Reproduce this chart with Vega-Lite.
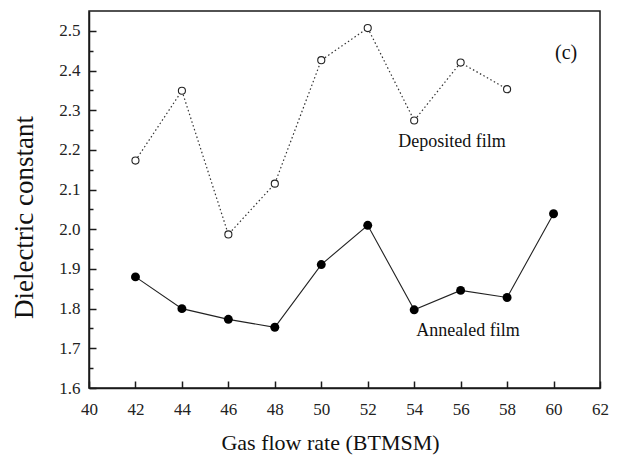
{
  "$schema": "https://vega.github.io/schema/vega-lite/v6.json",
  "width": 511,
  "height": 377,
  "autosize": {"type": "none"},
  "padding": {"left": 89, "top": 11, "right": 21, "bottom": 67},
  "background": "white",
  "config": {
    "view": {"stroke": "#1a1a1a", "strokeWidth": 1.5},
    "font": "Liberation Serif",
    "axis": {
      "grid": false,
      "domainColor": "#1a1a1a",
      "domainWidth": 1.5,
      "tickColor": "#1a1a1a",
      "tickWidth": 1.5,
      "labelFont": "Liberation Serif",
      "labelColor": "#222",
      "labelFontSize": 17,
      "titleFont": "Liberation Serif",
      "titleColor": "#111",
      "titleFontWeight": "normal",
      "titleFontSize": 22
    }
  },
  "datasets": {
    "pts": [
      {"rate": 42, "k": 2.173, "film": "Deposited"},
      {"rate": 44, "k": 2.349, "film": "Deposited"},
      {"rate": 46, "k": 1.987, "film": "Deposited"},
      {"rate": 48, "k": 2.115, "film": "Deposited"},
      {"rate": 50, "k": 2.426, "film": "Deposited"},
      {"rate": 52, "k": 2.507, "film": "Deposited"},
      {"rate": 54, "k": 2.274, "film": "Deposited"},
      {"rate": 56, "k": 2.42, "film": "Deposited"},
      {"rate": 58, "k": 2.353, "film": "Deposited"},
      {"rate": 42, "k": 1.88, "film": "Annealed"},
      {"rate": 44, "k": 1.8, "film": "Annealed"},
      {"rate": 46, "k": 1.773, "film": "Annealed"},
      {"rate": 48, "k": 1.753, "film": "Annealed"},
      {"rate": 50, "k": 1.911, "film": "Annealed"},
      {"rate": 52, "k": 2.01, "film": "Annealed"},
      {"rate": 54, "k": 1.797, "film": "Annealed"},
      {"rate": 56, "k": 1.846, "film": "Annealed"},
      {"rate": 58, "k": 1.828, "film": "Annealed"},
      {"rate": 60, "k": 2.039, "film": "Annealed"}
    ],
    "notes": [
      {"rate": 55.63, "k": 2.22, "text": "Deposited film", "size": "m"},
      {"rate": 56.32, "k": 1.743, "text": "Annealed film", "size": "m"},
      {"rate": 60.54, "k": 2.444, "text": "(c)", "size": "l"}
    ]
  },
  "resolve": {"scale": {"x": "shared", "y": "shared"}, "axis": {"y": "independent", "x": "independent"}},
  "layer": [
    {
      "data": {"name": "pts"},
      "transform": [{"filter": "datum.film === 'Deposited'"}],
      "mark": {"type": "line", "stroke": "#333", "strokeWidth": 1.2, "strokeDash": [1.5, 2.5]},
      "encoding": {
        "x": {"field": "rate", "type": "quantitative",
          "scale": {"domain": [40, 62], "nice": false, "zero": false},
          "axis": {"title": "Gas flow rate (BTMSM)", "values": [40,42,44,46,48,50,52,54,56,58,60,62],
            "tickSize": -7, "labelPadding": 20, "labelFlush": false, "labelOverlap": false,
            "titleX": 241, "titleY": 61, "titleBaseline": "alphabetic", "titleAnchor": null}},
        "y": {"field": "k", "type": "quantitative",
          "scale": {"domain": [1.6, 2.55], "nice": false, "zero": false},
          "axis": {"title": "Dielectric constant", "values": [1.6,1.7,1.8,1.9,2.0,2.1,2.2,2.3,2.4,2.5],
            "format": ".1f", "tickSize": -7, "labelPadding": 16, "labelFlush": false, "labelOverlap": false,
            "titleFontSize": 27,
            "titleX": -57, "titleY": 206, "titleAngle": -90, "titleBaseline": "alphabetic", "titleAlign": "center"}}
      }
    },
    {
      "data": {"name": "pts"},
      "transform": [{"filter": "datum.film === 'Annealed'"}],
      "mark": {"type": "line", "stroke": "#222", "strokeWidth": 1.1},
      "encoding": {
        "x": {"field": "rate", "type": "quantitative", "axis": null},
        "y": {"field": "k", "type": "quantitative",
          "axis": {"orient": "left", "title": null, "labels": false, "domain": false,
            "values": [1.65,1.75,1.85,1.95,2.05,2.15,2.25,2.35,2.45], "tickSize": -4}}
      }
    },
    {
      "data": {"name": "pts"},
      "transform": [{"filter": "datum.film === 'Deposited'"}],
      "mark": {"type": "point", "shape": "circle", "filled": false, "fill": "white", "stroke": "#222", "strokeWidth": 1.1, "size": 50, "opacity": 1},
      "encoding": {
        "x": {"field": "rate", "type": "quantitative", "axis": null},
        "y": {"field": "k", "type": "quantitative", "axis": null}
      }
    },
    {
      "data": {"name": "pts"},
      "transform": [{"filter": "datum.film === 'Annealed'"}],
      "mark": {"type": "point", "shape": "circle", "filled": true, "color": "#000", "size": 80, "opacity": 1},
      "encoding": {
        "x": {"field": "rate", "type": "quantitative", "axis": null},
        "y": {"field": "k", "type": "quantitative", "axis": null}
      }
    },
    {
      "data": {"name": "notes"},
      "mark": {"type": "text", "font": "Liberation Serif", "color": "#111", "align": "center", "baseline": "middle"},
      "encoding": {
        "x": {"field": "rate", "type": "quantitative", "axis": null},
        "y": {"field": "k", "type": "quantitative", "axis": null},
        "text": {"field": "text"},
        "size": {"field": "size", "type": "nominal", "scale": {"domain": ["m", "l"], "range": [18, 20]}, "legend": null}
      }
    }
  ]
}
